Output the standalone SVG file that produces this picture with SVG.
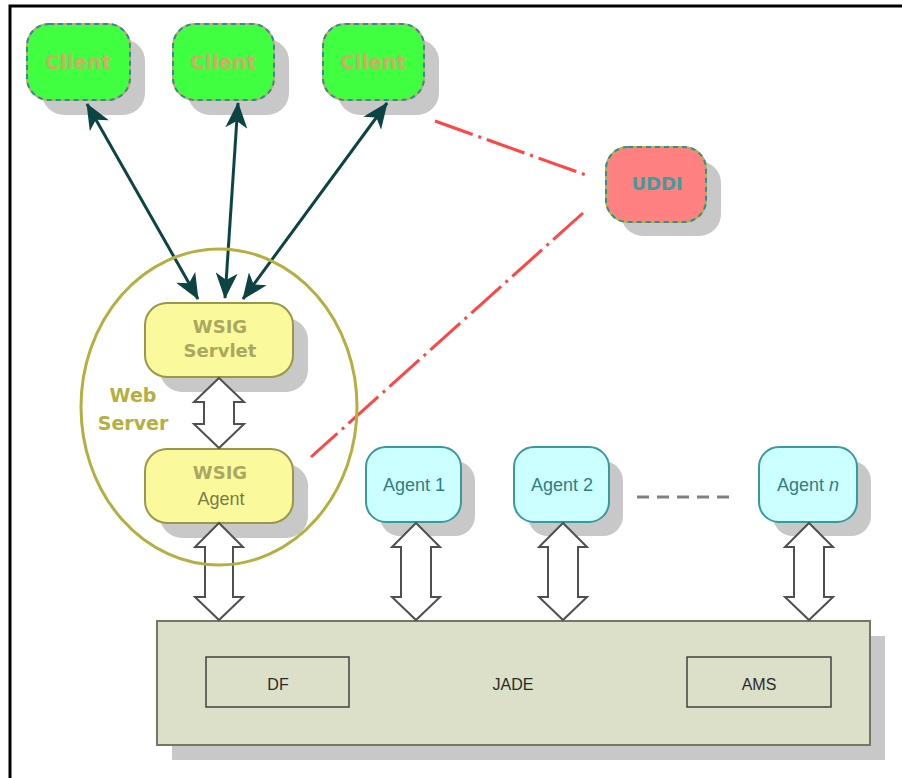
<svg xmlns="http://www.w3.org/2000/svg" width="902" height="778" viewBox="0 0 902 778">
<style>
.shadow{fill:#c8c8c8}
.client{fill:#40ff40;stroke:#c8a860;stroke-width:2}
.dash2{fill:none;stroke:#2a8fa0;stroke-width:2;stroke-dasharray:5 4}
.ctext{font-family:"DejaVu Sans",Verdana,sans-serif;font-weight:bold;font-size:20px;fill:#c8b060;text-anchor:middle}
.uddi{fill:#ff8080;stroke:#b8b040;stroke-width:2}
.utext{font-family:"DejaVu Sans",Verdana,sans-serif;font-weight:bold;font-size:18px;fill:#3a9f9f;text-anchor:middle}
.wsig{fill:#fafa9c;stroke:#98984a;stroke-width:2}
.wtext{font-family:"DejaVu Sans",Verdana,sans-serif;font-weight:bold;font-size:18px;fill:#a8a860;text-anchor:middle}
.wtext2{font-family:"Liberation Sans",Arial,sans-serif;font-size:18px;fill:#7a7a48;text-anchor:middle}
.ws{font-family:"DejaVu Sans",Verdana,sans-serif;font-weight:bold;font-size:19px;fill:#b4b040;text-anchor:middle}
.agent{fill:#ccffff;stroke:#3a9a9a;stroke-width:2}
.atext{font-family:"Liberation Sans",Arial,sans-serif;font-size:18px;fill:#2f8080;text-anchor:middle}
.hollow{fill:#ffffff;stroke:#505050;stroke-width:2;stroke-linejoin:miter}
.dark{stroke:#0c4444;stroke-width:3;fill:none;marker-start:url(#ah);marker-end:url(#ah)}
.red{stroke:#ff4545;stroke-width:3;fill:none;stroke-dasharray:40 6 3 6}
.jtext{font-family:"Liberation Sans",Arial,sans-serif;font-size:16px;fill:#2a2a2a;text-anchor:middle}
</style>
<defs>
<marker id="ah" viewBox="0 0 26 22" refX="25" refY="11" markerWidth="26" markerHeight="22" markerUnits="userSpaceOnUse" orient="auto-start-reverse">
<path d="M0,0 L26,11 L0,22 L7,11 Z" fill="#0c4444"/>
</marker>
</defs>
<rect x="0" y="0" width="902" height="778" fill="#ffffff"/>
<path d="M10,778 L10,6 L902,6" fill="none" stroke="#000000" stroke-width="3"/>

<g id="client1">
<rect class="shadow" x="42" y="39" width="103" height="76" rx="22"/>
<rect class="client" x="27" y="24" width="103" height="76" rx="22"/>
<rect class="dash2" x="27" y="24" width="103" height="76" rx="22"/>
<text class="ctext" x="78" y="69">Client</text>
</g>
<g id="client2">
<rect class="shadow" x="188" y="39" width="101" height="76" rx="22"/>
<rect class="client" x="173" y="24" width="101" height="76" rx="22"/>
<rect class="dash2" x="173" y="24" width="101" height="76" rx="22"/>
<text class="ctext" x="223" y="69">Client</text>
</g>
<g id="client3">
<rect class="shadow" x="338" y="39" width="101" height="76" rx="22"/>
<rect class="client" x="323" y="24" width="101" height="76" rx="22"/>
<rect class="dash2" x="323" y="24" width="101" height="76" rx="22"/>
<text class="ctext" x="373" y="69">Client</text>
</g>
<g id="uddi">
<rect class="shadow" x="621" y="161" width="100" height="75" rx="22"/>
<rect class="uddi" x="606" y="147" width="100" height="75" rx="22"/>
<rect class="dash2" x="606" y="147" width="100" height="75" rx="22"/>
<text class="utext" x="657" y="190">UDDI</text>
</g>

<g id="wsig-servlet">
<rect class="shadow" x="160" y="318" width="148" height="74" rx="22"/>
<rect class="wsig" x="145" y="303" width="148" height="74" rx="22"/>
<text class="wtext" x="220" y="333">WSIG</text>
<text class="wtext" x="220" y="357">Servlet</text>
</g>
<g id="wsig-agent">
<rect class="shadow" x="160" y="464" width="148" height="74" rx="22"/>
<rect class="wsig" x="145" y="449" width="148" height="74" rx="22"/>
<text class="wtext" x="220" y="479">WSIG</text>
<text class="wtext2" x="221" y="505">Agent</text>
</g>

<g id="agent1">
<rect class="shadow" x="380" y="461" width="95" height="75" rx="20"/>
<rect class="agent" x="366" y="447" width="95" height="75" rx="20"/>
<text class="atext" x="414" y="491">Agent 1</text>
</g>
<g id="agent2">
<rect class="shadow" x="528" y="461" width="95" height="75" rx="20"/>
<rect class="agent" x="514" y="447" width="95" height="75" rx="20"/>
<text class="atext" x="562" y="491">Agent 2</text>
</g>
<g id="agentn">
<rect class="shadow" x="773" y="461" width="98" height="75" rx="20"/>
<rect class="agent" x="759" y="447" width="98" height="75" rx="20"/>
<text class="atext" x="808" y="491">Agent <tspan font-style="italic">n</tspan></text>
</g>

<g id="jade">
<rect class="shadow" x="172" y="636" width="713" height="124"/>
<rect x="157" y="621" width="713" height="124" fill="#dce0c8" stroke="#707868" stroke-width="2"/>
<text class="jtext" x="513" y="690">JADE</text>
</g>
<g id="df">
<rect x="206" y="657" width="143" height="50" fill="none" stroke="#404040" stroke-width="1.5"/>
<text class="jtext" x="278" y="690">DF</text>
</g>
<g id="ams">
<rect x="687" y="657" width="144" height="50" fill="none" stroke="#404040" stroke-width="1.5"/>
<text class="jtext" x="759" y="690">AMS</text>
</g>

<g id="connectors">
<line class="red" x1="435" y1="121" x2="586" y2="175"/>
<line class="red" x1="583" y1="213" x2="311" y2="457"/>
<line x1="637" y1="497" x2="737" y2="497" stroke="#808080" stroke-width="3" stroke-dasharray="12 8"/>
<line class="dark" x1="87" y1="104" x2="198" y2="299"/>
<line class="dark" x1="238" y1="103" x2="225" y2="298"/>
<line class="dark" x1="387" y1="103" x2="243" y2="299"/>
<path class="hollow" d="M219,378 L244,402 L234,402 L234,424 L244,424 L219,448 L194,424 L204,424 L204,402 L194,402 Z"/>
<path class="hollow" d="M219,523 L243,547 L233,547 L233,597 L243,597 L219,620 L195,597 L205,597 L205,547 L195,547 Z"/>
<path class="hollow" d="M416,523 L440,547 L431,547 L431,597 L440,597 L416,620 L392,597 L401,597 L401,547 L392,547 Z"/>
<path class="hollow" d="M563,523 L587,547 L578,547 L578,597 L587,597 L563,620 L539,597 L548,597 L548,547 L539,547 Z"/>
<path class="hollow" d="M809,523 L833,547 L824,547 L824,597 L833,597 L809,620 L785,597 L794,597 L794,547 L785,547 Z"/>
</g>

<g id="web-server">
<ellipse cx="219" cy="407" rx="138" ry="158" fill="none" stroke="#b4b040" stroke-width="3"/>
<text class="ws" x="133" y="402">Web</text>
<text class="ws" x="133" y="430">Server</text>
</g>
</svg>
